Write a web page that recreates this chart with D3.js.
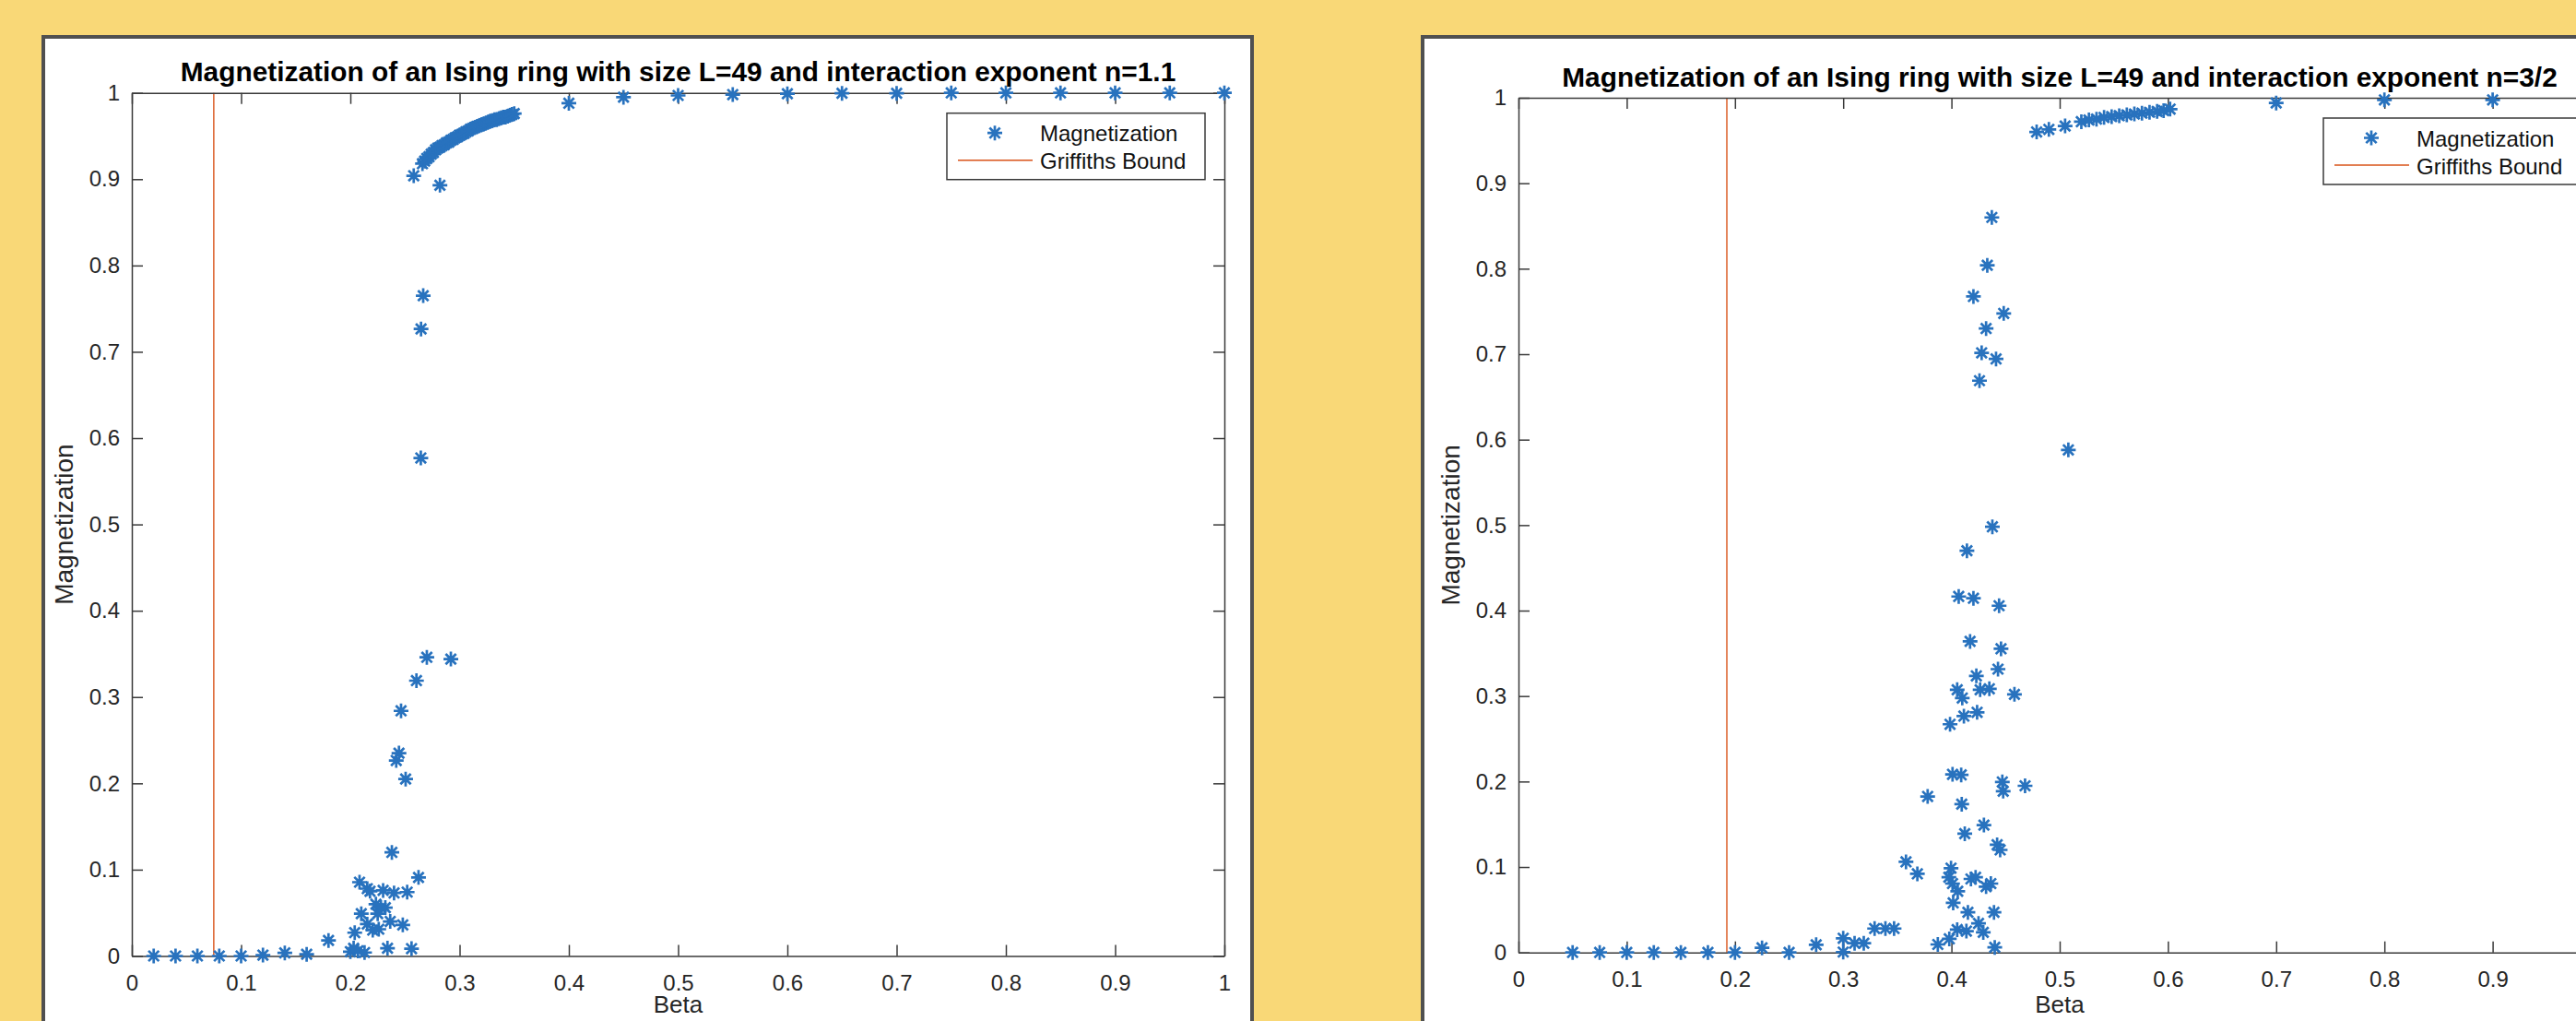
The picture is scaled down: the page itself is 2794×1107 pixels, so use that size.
<!DOCTYPE html>
<html><head><meta charset="utf-8">
<script src="https://cdn.jsdelivr.net/npm/d3@7"></script>
<style>html,body{margin:0;padding:0;background:#F9D877;overflow:hidden}</style>
</head><body><svg id="c" width="2794" height="1107"></svg>
<script>
// ---------------- data ----------------
const tickValues = [0, 0.1, 0.2, 0.3, 0.4, 0.5, 0.6, 0.7, 0.8, 0.9, 1];
const tickLabels = ["0", "0.1", "0.2", "0.3", "0.4", "0.5", "0.6", "0.7", "0.8", "0.9", "1"];
const titleLeft = "Magnetization of an Ising ring with size L=49 and interaction exponent n=1.1";
const titleRight = "Magnetization of an Ising ring with size L=49 and interaction exponent n=3/2";
const xLabel = "Beta";
const yLabel = "Magnetization";
const legendLabels = ["Magnetization", "Griffiths Bound"];
const griffithsLeft = 0.075;
const griffithsRight = 0.1925;

const leftBeta = [
  0.02, 0.04, 0.06, 0.08, 0.10, 0.12, 0.14, 0.16, 0.18,
  0.200, 0.203, 0.207, 0.213, 0.234, 0.256, 0.204, 0.210, 0.2155, 0.2205, 0.226,
  0.2365, 0.248, 0.2234, 0.225, 0.232, 0.228, 0.2084, 0.2155, 0.218, 0.230,
  0.240, 0.252, 0.2624, 0.238, 0.2506, 0.242, 0.2445, 0.2464, 0.2605, 0.270,
  0.292, 0.2645, 0.2647, 0.2667, 0.258, 0.282,
  0.266, 0.268, 0.270, 0.272, 0.274, 0.276, 0.278, 0.280, 0.282, 0.284,
  0.286, 0.288, 0.290, 0.292, 0.294, 0.296, 0.298, 0.300, 0.302, 0.304,
  0.306, 0.308, 0.310, 0.312, 0.314, 0.316, 0.318, 0.320, 0.322, 0.324,
  0.326, 0.328, 0.330, 0.332, 0.334, 0.336, 0.338, 0.340, 0.342, 0.344,
  0.346, 0.348, 0.350,
  0.40, 0.45, 0.50, 0.55, 0.60, 0.65, 0.70, 0.75, 0.80, 0.85, 0.90, 0.95, 1.00
];
const leftMag = [
  0, 0, 0, 0, 0, 0.001, 0.0035, 0.002, 0.018,
  0.005, 0.009, 0.006, 0.004, 0.009, 0.0085, 0.027, 0.049, 0.037, 0.030, 0.031,
  0.040, 0.036, 0.060, 0.049, 0.056, 0.056, 0.0855, 0.078, 0.075, 0.076,
  0.073, 0.074, 0.091, 0.120, 0.205, 0.2265, 0.235, 0.284, 0.319, 0.346,
  0.344, 0.577, 0.7265, 0.765, 0.904, 0.893,
  0.918, 0.921, 0.924, 0.926, 0.929, 0.931, 0.934, 0.936, 0.937, 0.939,
  0.940, 0.942, 0.943, 0.945, 0.946, 0.948, 0.949, 0.951, 0.952, 0.953,
  0.955, 0.956, 0.958, 0.959, 0.960, 0.961, 0.962, 0.963, 0.964, 0.965,
  0.966, 0.967, 0.968, 0.969, 0.969, 0.970, 0.971, 0.972, 0.972, 0.973,
  0.974, 0.975, 0.976,
  0.988, 0.995, 0.997, 0.998, 0.999, 0.9995, 0.9995, 1.0, 1.0, 1.0, 1.0, 1.0, 1.0
];

const rightBeta = [
  0.05, 0.075, 0.10, 0.125, 0.15, 0.175, 0.20, 0.225, 0.25, 0.275,
  0.300, 0.300, 0.3105, 0.319, 0.329, 0.339, 0.347,
  0.358, 0.3685, 0.378, 0.3874, 0.398, 0.3996, 0.3976, 0.401, 0.4058, 0.4016,
  0.4053, 0.4138, 0.4152, 0.418, 0.4223, 0.425, 0.4294, 0.432, 0.4364, 0.4393, 0.440,
  0.4123, 0.430, 0.4422, 0.445, 0.4095, 0.401, 0.409, 0.447, 0.4478, 0.468,
  0.3987, 0.4115, 0.4237, 0.4053, 0.410, 0.423, 0.4265, 0.435, 0.4582, 0.443,
  0.4458, 0.4172, 0.4067, 0.4203, 0.444, 0.4143, 0.4378, 0.508,
  0.4259, 0.4412, 0.4279, 0.432, 0.4483, 0.4203, 0.4331, 0.4373,
  0.4787, 0.490, 0.505, 0.520, 0.527, 0.534, 0.541, 0.548, 0.555, 0.562,
  0.569, 0.576, 0.583, 0.590, 0.596, 0.602, 0.70, 0.80, 0.90
];
const rightMag = [
  0, 0, 0, 0, 0, 0, 0, 0.0054, 0, 0.009,
  0.0166, 0.0005, 0.0108, 0.0108, 0.028, 0.028, 0.028,
  0.106, 0.092, 0.1825, 0.0094, 0.0159, 0.0986, 0.088, 0.0806, 0.0716, 0.058,
  0.0267, 0.025, 0.047, 0.086, 0.088, 0.034, 0.0235, 0.077, 0.0806, 0.047, 0.006,
  0.139, 0.149, 0.126, 0.120, 0.1735, 0.2084, 0.2077, 0.1995, 0.1887, 0.195,
  0.267, 0.2765, 0.281, 0.3074, 0.2977, 0.3236, 0.3074, 0.3085, 0.302, 0.3315,
  0.3553, 0.364, 0.4165, 0.4144, 0.4057, 0.470, 0.498, 0.588,
  0.669, 0.6944, 0.7016, 0.730, 0.7477, 0.7675, 0.804, 0.860,
  0.960, 0.963, 0.967, 0.972, 0.974, 0.975, 0.977, 0.978, 0.979, 0.980,
  0.981, 0.982, 0.983, 0.984, 0.985, 0.9867, 0.9939, 0.9975, 0.9975
];

// ---------------- layout ----------------
const W = 2794, H = 1107;
const svg = d3.select("#c");
const FONT = "'Liberation Sans', Arial, Helvetica, sans-serif";
const BLUE = "#2872BE", ORANGE = "#D95319", AX = "#3a3a3a";

svg.append("rect").attr("width", W).attr("height", H).attr("fill", "#F9D877");

const panels = [
  { frame: { x: 47, y: 40, w: 1311, h: 1200 }, x0: 143, x1: 1328, yTop: 100.7, yBot: 1036.5,
    titleY: 88, titleW: 1080, title: titleLeft, beta: leftBeta, mag: leftMag, g: griffithsLeft },
  { frame: { x: 1543, y: 40, w: 1400, h: 1200 }, x0: 1647, x1: 2821, yTop: 106, yBot: 1032.7,
    titleY: 94, titleW: 1080, title: titleRight, beta: rightBeta, mag: rightMag, g: griffithsRight }
];

const asterisk = {
  draw(ctx, size) {
    const r = Math.sqrt(size) / 2, d = r * Math.SQRT1_2;
    ctx.moveTo(-r, 0); ctx.lineTo(r, 0);
    ctx.moveTo(0, -r); ctx.lineTo(0, r);
    ctx.moveTo(-d, -d); ctx.lineTo(d, d);
    ctx.moveTo(-d, d); ctx.lineTo(d, -d);
  }
};
const sym = d3.symbol().type(asterisk).size(256);

panels.forEach(p => {
  const f = p.frame;
  svg.append("rect").attr("x", f.x).attr("y", f.y).attr("width", f.w).attr("height", f.h)
    .attr("fill", "#fff").attr("stroke", "#505050").attr("stroke-width", 4);

  const x = d3.scaleLinear().domain([0, 1]).range([p.x0, p.x1]);
  const y = d3.scaleLinear().domain([0, 1]).range([p.yBot, p.yTop]);
  const g = svg.append("g");
  // tick labels that would fall outside the photographed area are not shown
  const fmtX = v => (x(v) < W - 10 ? tickLabels[tickValues.indexOf(v)] : "");
  const fmtY = v => tickLabels[tickValues.indexOf(v)];

  // Griffiths bound
  g.append("line").attr("x1", x(p.g)).attr("x2", x(p.g)).attr("y1", y(0)).attr("y2", y(1))
    .attr("stroke", ORANGE).attr("stroke-width", 1.4);

  const styleAxis = sel => {
    sel.selectAll("path.domain").attr("stroke", AX).attr("stroke-width", 1.5);
    sel.selectAll(".tick line").attr("stroke", AX).attr("stroke-width", 1.5);
    sel.selectAll("text").attr("font-family", FONT).attr("font-size", 24).attr("fill", "#262626");
  };
  g.append("g").attr("transform", `translate(0,${y(0)})`)
    .call(d3.axisBottom(x).tickValues(tickValues).tickFormat(fmtX).tickSizeInner(-12).tickSizeOuter(0).tickPadding(20))
    .call(styleAxis);
  g.append("g").attr("transform", `translate(0,${y(1)})`)
    .call(d3.axisTop(x).tickValues(tickValues).tickFormat("").tickSizeInner(-12).tickSizeOuter(0))
    .call(styleAxis);
  g.append("g").attr("transform", `translate(${x(0)},0)`)
    .call(d3.axisLeft(y).tickValues(tickValues).tickFormat(fmtY).tickSizeInner(-12).tickSizeOuter(0).tickPadding(13))
    .call(styleAxis);
  g.append("g").attr("transform", `translate(${x(1)},0)`)
    .call(d3.axisRight(y).tickValues(tickValues).tickFormat("").tickSizeInner(-12).tickSizeOuter(0))
    .call(styleAxis);

  // points
  const pts = p.beta.map((b, i) => [b, p.mag[i]]);
  g.append("g").selectAll("path").data(pts).join("path")
    .attr("transform", d => `translate(${x(d[0])},${y(d[1])})`)
    .attr("d", sym).attr("fill", "none").attr("stroke", BLUE).attr("stroke-width", 2.7);

  // legend
  const lw = 280, lh = 72;
  const lx = x(1) - 21 - lw, ly = y(1) + 22;
  const lg = g.append("g").attr("transform", `translate(${lx},${ly})`);
  lg.append("rect").attr("width", lw).attr("height", lh).attr("fill", "#fff")
    .attr("stroke", AX).attr("stroke-width", 1.5);
  lg.append("path").attr("transform", "translate(52,21.5)").attr("d", sym)
    .attr("fill", "none").attr("stroke", BLUE).attr("stroke-width", 2.7);
  lg.append("line").attr("x1", 12).attr("x2", 93).attr("y1", 51).attr("y2", 51)
    .attr("stroke", ORANGE).attr("stroke-width", 1.4);
  lg.selectAll("text").data(legendLabels).join("text")
    .attr("x", 101).attr("y", (d, i) => 30.5 + i * 30)
    .attr("font-family", FONT).attr("font-size", 24).attr("fill", "#111").text(d => d);

  // title
  const t = g.append("text").attr("x", (p.x0 + p.x1) / 2).attr("y", p.titleY)
    .attr("text-anchor", "middle").attr("font-family", FONT).attr("font-weight", "bold")
    .attr("font-size", 28).attr("fill", "#000").text(p.title);
  const w = t.node().getComputedTextLength();
  t.attr("font-size", 28 * p.titleW / w);

  // axis labels
  g.append("text").attr("x", (p.x0 + p.x1) / 2).attr("y", Math.min(p.yBot + 66, H - 9))
    .attr("text-anchor", "middle").attr("font-family", FONT).attr("font-size", 26)
    .attr("fill", "#262626").text(xLabel);
  g.append("text").attr("transform", `translate(${p.x0 - 64},${(p.yTop + p.yBot) / 2}) rotate(-90)`)
    .attr("text-anchor", "middle").attr("font-family", FONT).attr("font-size", 28)
    .attr("fill", "#262626").text(yLabel);
});
</script></body></html>
